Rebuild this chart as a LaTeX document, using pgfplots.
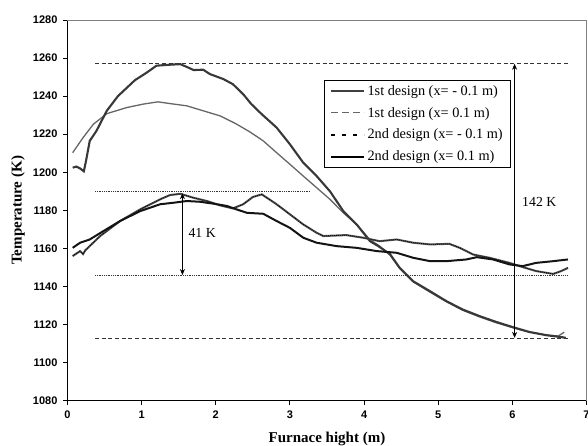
\documentclass[border=0pt]{standalone}
\usepackage{fontspec}
\setmainfont{Liberation Serif}
\setsansfont{Liberation Sans}
\usepackage{pgfplots}
\usepackage{pgfplotstable}
\pgfplotsset{compat=1.18}
\usetikzlibrary{arrows.meta}

\pgfplotstableread{
x y
0.07 1202.4
0.12 1203
0.17 1202
0.22 1200.5
0.25 1206
0.30 1216.5
0.39 1221.7
0.53 1232.3
0.68 1240
0.91 1248.4
1.07 1252.4
1.20 1256
1.38 1256.5
1.52 1256.8
1.63 1255
1.70 1253.7
1.83 1253.9
1.92 1251.6
2.10 1249
2.23 1246.3
2.37 1241
2.48 1235.8
2.62 1230.5
2.82 1223.5
3.00 1214.7
3.18 1205
3.36 1198
3.54 1190
3.72 1179.6
3.90 1172.6
4.08 1163.8
4.20 1161
4.35 1157
4.48 1149.8
4.66 1142.8
4.89 1137.5
5.11 1132.3
5.33 1127.9
5.56 1124.4
5.78 1121.4
6.01 1118.6
6.23 1116.1
6.46 1114.4
6.68 1113.3
6.72 1113
}\firstA

\pgfplotstableread{
x y
0.07 1210.3
0.21 1218.2
0.35 1225.3
0.53 1230.8
0.80 1234
1.02 1235.8
1.22 1237
1.38 1236.1
1.61 1234.9
1.83 1232.3
2.06 1229.6
2.28 1225.3
2.46 1221.2
2.64 1216.5
2.82 1210.3
3.00 1204.2
3.18 1198
3.36 1191.9
3.54 1185.8
3.72 1178.7
3.90 1172.6
4.08 1164.5
4.20 1161.5
4.35 1156.5
4.48 1149.5
4.66 1142.5
4.89 1137
5.11 1132
5.33 1127.5
5.56 1124
5.78 1121
6.01 1118.3
6.23 1116
6.46 1114.5
6.62 1114
6.70 1116
}\firstB

\pgfplotstableread{
x y
0.07 1156
0.17 1158.6
0.21 1157
0.24 1159
0.44 1166.5
0.71 1174.4
0.98 1180.5
1.25 1185.8
1.38 1188
1.52 1188.7
1.70 1186.6
1.88 1184.9
2.06 1182.6
2.23 1181
2.37 1183.2
2.50 1187
2.62 1188.4
2.82 1183.2
3.00 1177.9
3.18 1172.6
3.36 1168.2
3.45 1166.5
3.76 1167
3.99 1165.6
4.21 1163.8
4.44 1164.7
4.66 1163
4.89 1162.1
5.15 1162.4
5.29 1160.3
5.47 1156.8
5.69 1155.1
5.96 1152.4
6.14 1150.2
6.32 1148.1
6.55 1146.6
6.66 1148.1
6.75 1149.8
}\secondA

\pgfplotstableread{
x y
0.07 1160.3
0.17 1163
0.30 1164.7
0.48 1169
0.71 1174.4
0.98 1179.6
1.25 1183.2
1.43 1184
1.61 1184.9
1.79 1184.5
1.97 1183.5
2.15 1182.3
2.28 1180.5
2.42 1178.7
2.64 1178.2
2.82 1174.4
3.00 1170.8
3.18 1165.6
3.36 1163
3.63 1161.2
3.90 1160.3
4.17 1158.6
4.44 1157.7
4.66 1155.1
4.89 1153.3
5.11 1153.3
5.38 1154.2
5.52 1155.4
5.74 1154.2
5.96 1151.6
6.14 1150.7
6.32 1152.4
6.55 1153.3
6.75 1154.2
}\secondB

\begin{document}
\begin{tikzpicture}
\useasboundingbox (-67.5pt,-45pt) rectangle (520.5pt,400.7pt);
\begin{axis}[
  at={(0pt,0pt)}, anchor=south west,
  width=519pt, height=380.7pt, scale only axis,
  xmin=0, xmax=7, ymin=1080, ymax=1280,
  xtick={0,1,...,7},
  ytick={1080,1100,...,1280},
  axis x line*=bottom, axis y line*=left,
  axis line style={black, line width=0.9pt, -},
  tick style={black, line width=0.9pt},
  tick align=outside,
  major tick length=4pt,
  /pgf/number format/assume math mode=true,
  /pgf/number format/1000 sep={},
  ticklabel style={font=\fontsize{11}{13}\selectfont\sffamily\bfseries},
  yticklabel style={xshift=-2.5pt},
  xticklabel style={yshift=-3pt},
  xlabel={Furnace hight (m)},
  ylabel={Temperature (K)},
  xlabel style={font=\fontsize{15}{17}\selectfont\bfseries, at={(rel axis cs:0.5,0)}, anchor=center, yshift=-38pt},
  ylabel style={font=\fontsize{15}{17}\selectfont\bfseries, at={(axis description cs:-0.0954,0.5)}, anchor=center},
  clip=false,
  legend image code/.code={\draw[#1] (0pt,0pt) -- (33pt,0pt);},
  legend style={at={(axis cs:3.46,1248.3)}, anchor=north west, draw=black, line width=0.7pt,
    font=\fontsize{14.3}{16}\selectfont, inner xsep=6pt, inner ysep=2.5pt, row sep=6.5pt,
    cells={anchor=west}},
]
\addlegendimage{line width=2pt, black!75}
\addlegendimage{line width=1.2pt, black!60, dash pattern=on 7pt off 4pt}
\addlegendimage{line width=2.2pt, black, dash pattern=on 4pt off 7pt}
\addlegendimage{line width=2.2pt, black}
\legend{1st design (x= - 0.1 m), 1st design (x= 0.1 m), 2nd design (x= - 0.1 m), 2nd design (x= 0.1 m)}

% reference lines
\addplot[forget plot, black!80, line width=0.7pt, dash pattern=on 4pt off 2.7pt] coordinates {(0.37,1257.4) (6.75,1257.4)};
\addplot[forget plot, black!80, line width=0.7pt, dash pattern=on 4pt off 2.7pt] coordinates {(0.37,1112.6) (6.75,1112.6)};
\addplot[forget plot, black!80, line width=0.6pt, dash pattern=on 0.8pt off 1pt] coordinates {(0.37,1190) (3.28,1190)};
\addplot[forget plot, black!80, line width=0.6pt, dash pattern=on 0.8pt off 1pt] coordinates {(0.37,1146) (6.75,1146)};

% curves
\addplot[forget plot, black!60, line width=1.3pt] table {\firstB};
\addplot[forget plot, black!78, line width=2.1pt] table {\firstA};
\addplot[forget plot, black!68, line width=2pt] table {\secondA};
\addplot[forget plot, black, line width=0.7pt, dash pattern=on 1pt off 1pt] table {\secondA};
\addplot[forget plot, black!92, line width=2pt] table {\secondB};

% arrows
\draw[black, line width=0.7pt, {Stealth[length=6pt,width=5pt]}-{Stealth[length=6pt,width=5pt]}] (axis cs:1.55,1146) -- (axis cs:1.55,1189);
\draw[black, line width=0.7pt, {Stealth[length=6pt,width=5pt]}-{Stealth[length=6pt,width=5pt]}] (axis cs:6.03,1113) -- (axis cs:6.03,1257);
\node[anchor=west, font=\fontsize{13.8}{15}\selectfont, inner sep=0pt] at (axis cs:1.63,1168) {41 K};
\node[anchor=west, font=\fontsize{13.8}{15}\selectfont, inner sep=0pt] at (axis cs:6.13,1184.4) {142 K};

% gray top and right frame
\draw[black!50, line width=0.6pt] (rel axis cs:0,1) -- (rel axis cs:1,1) -- (rel axis cs:1,0);
\end{axis}
\end{tikzpicture}
\end{document}
